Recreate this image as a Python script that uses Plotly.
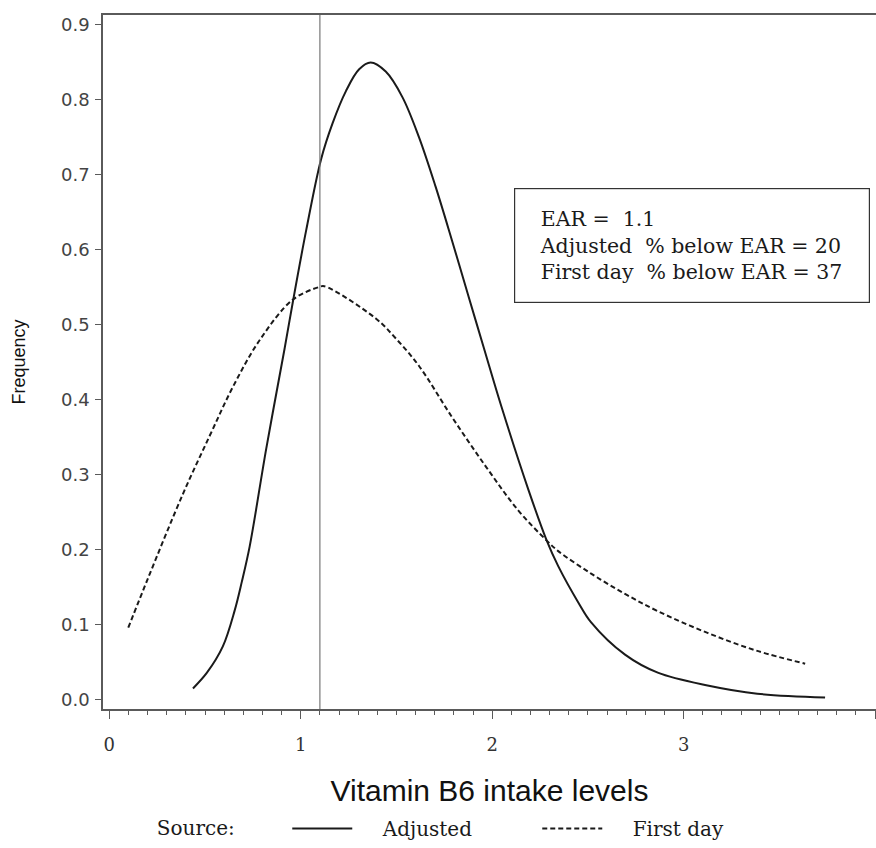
import plotly.graph_objects as go

# ---- data ----
adjusted_x = [0.437, 0.51, 0.593, 0.655, 0.692, 0.733, 0.82, 0.915, 0.958, 1.028,
              1.106, 1.166, 1.236, 1.305, 1.365, 1.444, 1.531, 1.617, 1.704,
              1.790, 1.877, 1.955, 2.049, 2.189, 2.285, 2.345, 2.449, 2.517, 2.694,
              2.865, 3.125, 3.385, 3.739]
adjusted_y = [0.015, 0.036, 0.071, 0.119, 0.157, 0.204, 0.335, 0.467, 0.529, 0.625,
              0.720, 0.768, 0.811, 0.840, 0.849, 0.837, 0.803, 0.750, 0.684,
              0.612, 0.537, 0.470, 0.390, 0.280, 0.212, 0.178, 0.130, 0.103, 0.060,
              0.036, 0.019, 0.008, 0.003]

first_day_x = [0.099, 0.204, 0.386, 0.525, 0.646, 0.785, 0.958, 1.097, 1.123, 1.392,
               1.498, 1.617, 1.789, 1.966, 2.137, 2.285, 2.345, 2.517, 2.694, 2.865,
               3.125, 3.385, 3.635]
first_day_y = [0.096, 0.163, 0.275, 0.352, 0.417, 0.479, 0.533, 0.550, 0.551, 0.508,
               0.481, 0.445, 0.377, 0.311, 0.252, 0.212, 0.198, 0.168, 0.141, 0.118,
               0.089, 0.065, 0.048]

EAR = 1.1
pct_below_adjusted = 20
pct_below_first_day = 37

x_tick_vals = [0, 1, 2, 3, 4]
y_tick_vals = [0.0, 0.1, 0.2, 0.3, 0.4, 0.5, 0.6, 0.7, 0.8, 0.9]
y_tick_text = [f"{v:.1f}" for v in y_tick_vals]

SERIF = "DejaVu Serif"
SANS = "Liberation Sans"
AXIS_COLOR = "#5a5a5a"
INK = "#1a1a1a"
NB = "\u00a0"

fig = go.Figure()
fig.add_trace(go.Scatter(
    x=adjusted_x, y=adjusted_y, mode="lines", name=NB * 4 + "Adjusted",
    line=dict(color=INK, width=2, shape="spline", smoothing=1.0),
))
fig.add_trace(go.Scatter(
    x=first_day_x, y=first_day_y, mode="lines", name=NB * 4 + "First day",
    line=dict(color=INK, width=2, dash="5px,3px", shape="spline", smoothing=1.0),
))

fig.add_vline(x=EAR, line=dict(color="#777777", width=1.2))

fig.add_annotation(
    xref="paper", yref="paper", x=0.762, y=0.668,
    xanchor="center", yanchor="middle", showarrow=False,
    text=(f"{NB}EAR =  {EAR}<br>"
          f"{NB}Adjusted  % below EAR = {pct_below_adjusted}<br>"
          f"{NB}First day  % below EAR = {pct_below_first_day}"),
    align="left", valign="middle",
    font=dict(family=SERIF, size=20.5, color=INK),
    bordercolor="#333333", borderwidth=1.2, borderpad=19,
    width=316, height=75, bgcolor="white",
)

fig.update_layout(
    width=876, height=848,
    margin=dict(l=103, r=0, t=15, b=139),
    paper_bgcolor="white", plot_bgcolor="white",
    showlegend=True,
    legend=dict(
        orientation="h", xref="paper", x=0.067, xanchor="left",
        yref="container", y=0.0, yanchor="bottom",
        font=dict(family=SERIF, size=20, color=INK),
        title=dict(text="Source:" + NB * 7, font=dict(family=SERIF, size=20, color=INK), side="left"),
        entrywidth=175, entrywidthmode="pixels",
        itemwidth=60,
    ),
    xaxis=dict(
        range=[-0.033, 4.005], showgrid=False, zeroline=False,
        showline=True, linecolor=AXIS_COLOR, linewidth=1.5, mirror=True,
        ticks="outside", ticklen=8, tickwidth=1.3, tickcolor=AXIS_COLOR,
        tickvals=x_tick_vals, ticktext=[str(v) for v in x_tick_vals],
        tickfont=dict(family=SERIF, size=18, color="#333333"),
        ticklabelstandoff=11,
        minor=dict(dtick=0.1, tick0=0, ticks="outside", ticklen=4, tickwidth=1, tickcolor=AXIS_COLOR),
        title=dict(text=NB * 2 + "Vitamin B6 intake levels", standoff=26,
                   font=dict(family=SANS, size=30, color="#111111")),
    ),
    yaxis=dict(
        range=[-0.0124, 0.9124], showgrid=False, zeroline=False,
        showline=True, linecolor=AXIS_COLOR, linewidth=1.5,
        ticks="outside", ticklen=6, tickwidth=1.3, tickcolor=AXIS_COLOR,
        tickvals=y_tick_vals, ticktext=y_tick_text,
        tickfont=dict(family="DejaVu Sans", size=18, color="#444444"),
        ticklabelstandoff=2,
        title=dict(text="Frequency", standoff=31,
                   font=dict(family=SANS, size=18, color="#111111")),
    ),
)

fig.write_html(
    "out.html",
    config={"displayModeBar": False},
    post_script="document.body.style.margin='0';document.body.style.overflow='hidden';",
)
